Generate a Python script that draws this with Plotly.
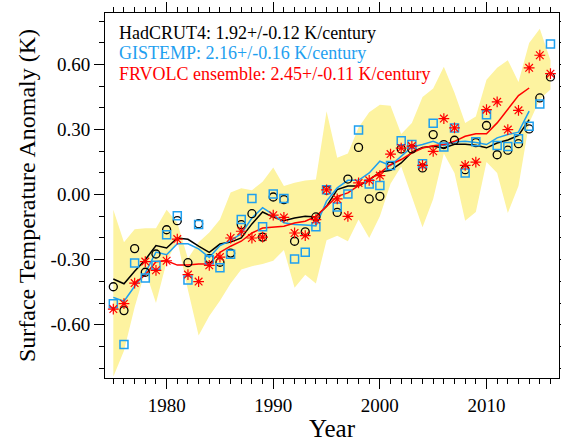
import plotly.graph_objects as go

years = list(range(1975, 2017))
line_years = list(range(1975, 2015))
red_line_years = list(range(1977, 2015))

hadcrut4 = [-0.425, -0.535, -0.249, -0.358, -0.274, -0.162, -0.12, -0.314, -0.134, -0.295,
            -0.312, -0.27, -0.138, -0.088, -0.196, -0.011, -0.023, -0.215, -0.172, -0.103,
            0.02, -0.082, 0.072, 0.218, -0.02, -0.008, 0.132, 0.211, 0.211, 0.123,
            0.277, 0.231, 0.251, 0.115, 0.24, 0.319, 0.184, 0.205, 0.235, 0.303,
            0.446, 0.543]
gistemp = [-0.503, -0.692, -0.315, -0.385, -0.326, -0.185, -0.097, -0.394, -0.138, -0.30,
           -0.337, -0.275, -0.115, -0.018, -0.148, 0.003, -0.018, -0.297, -0.266, -0.148,
           0.023, -0.057, 0.003, 0.298, 0.049, 0.042, 0.134, 0.249, 0.231, 0.143,
           0.329, 0.22, 0.308, 0.1, 0.244, 0.369, 0.227, 0.222, 0.258, 0.315,
           0.418, 0.695]
frvolc = [-0.528, -0.503, -0.408, -0.309, -0.349, -0.305, -0.205, -0.369, -0.401, -0.326,
          -0.288, -0.2, -0.169, -0.2, -0.196, -0.095, -0.105, -0.177, -0.189, -0.115,
          0.022, -0.02, -0.1, 0.054, 0.066, 0.088, 0.187, 0.215, 0.224, 0.135,
          0.2, 0.351, 0.308, 0.135, 0.15, 0.392, 0.428, 0.3, 0.389, 0.585,
          0.643, 0.558]

hadcrut4_smooth = [-0.389, -0.411, -0.354, -0.30, -0.235, -0.246, -0.20, -0.206, -0.238, -0.266,
                   -0.228, -0.219, -0.20, -0.135, -0.08, -0.104, -0.12, -0.108, -0.10, -0.103,
                   -0.054, 0.023, 0.04, 0.04, 0.068, 0.104, 0.112, 0.146, 0.196, 0.217,
                   0.223, 0.215, 0.232, 0.233, 0.228, 0.216, 0.238, 0.252, 0.273, 0.346]
gistemp_smooth = [-0.474, -0.492, -0.423, -0.361, -0.265, -0.277, -0.227, -0.227, -0.25, -0.29,
                  -0.235, -0.212, -0.18, -0.108, -0.06, -0.092, -0.13, -0.138, -0.14, -0.144,
                  -0.03, 0.031, 0.066, 0.066, 0.1, 0.154, 0.134, 0.177, 0.22, 0.231,
                  0.246, 0.226, 0.243, 0.246, 0.241, 0.231, 0.262, 0.277, 0.288, 0.385]
frvolc_smooth = [-0.41, -0.37, -0.31, -0.305, -0.325, -0.325, -0.32, -0.32,
                 -0.266, -0.238, -0.215, -0.177, -0.154, -0.149, -0.146, -0.131, -0.123, -0.1,
                 -0.054, -0.008, 0.008, 0.042, 0.07, 0.1, 0.138, 0.162, 0.192, 0.215,
                 0.226, 0.231, 0.246, 0.269, 0.281, 0.281, 0.331, 0.395, 0.457, 0.492]

ens_upper = [-0.07, -0.22, -0.16, -0.155, -0.155, -0.07, -0.13, -0.295, -0.22, -0.175,
             -0.115, 0.01, 0.03, 0.02, 0.06, 0.125, 0.04, 0.055, 0.065, 0.07,
             0.385, 0.17, 0.19, 0.31, 0.38, 0.415, 0.41, 0.28, 0.33, 0.45,
             0.49, 0.59, 0.47, 0.33, 0.36, 0.53, 0.585, 0.62, 0.52, 0.70,
             0.765, 0.62]
ens_lower = [-0.84, -0.72, -0.52, -0.35, -0.50, -0.31, -0.21, -0.44, -0.65, -0.56,
             -0.49, -0.41, -0.345, -0.33, -0.32, -0.305, -0.255, -0.43, -0.37, -0.41,
             -0.21, -0.19, -0.215, -0.115, -0.2, -0.1, 0.05, 0.13, -0.01, -0.15,
             -0.02, 0.19, 0.1, -0.12, -0.08, 0.15, 0.1, -0.085, 0.04, 0.33,
             0.44, 0.485]

x_tick_values = [1980, 1990, 2000, 2010]
x_tick_labels = ["1980", "1990", "2000", "2010"]
y_tick_values = [-0.6, -0.3, 0.0, 0.3, 0.6]
y_tick_labels = ["-0.60", "-0.30", "0.00", "0.30", "0.60"]

legend_lines = ["HadCRUT4: 1.92+/-0.12 K/century",
                "GISTEMP: 2.16+/-0.16 K/century",
                "FRVOLC ensemble: 2.45+/-0.11 K/century"]

BLACK = "#000000"
BLUE = "#1EA0F0"
RED = "#FF0000"
YELLOW = "#FDF3A0"
FONT = "Liberation Serif, Times New Roman, serif"

fig = go.Figure()
fig.add_trace(go.Scatter(x=years, y=ens_lower, mode="lines", line=dict(width=0, color=YELLOW),
                         showlegend=False, hoverinfo="skip"))
fig.add_trace(go.Scatter(x=years, y=ens_upper, mode="lines", line=dict(width=0, color=YELLOW),
                         fill="tonexty", fillcolor=YELLOW, showlegend=False, hoverinfo="skip"))
fig.add_trace(go.Scatter(x=line_years, y=hadcrut4_smooth, mode="lines",
                         line=dict(color=BLACK, width=1.5), showlegend=False))
fig.add_trace(go.Scatter(x=line_years, y=gistemp_smooth, mode="lines",
                         line=dict(color=BLUE, width=1.5), showlegend=False))
fig.add_trace(go.Scatter(x=red_line_years, y=frvolc_smooth, mode="lines",
                         line=dict(color=RED, width=1.5), showlegend=False))
fig.add_trace(go.Scatter(x=years, y=hadcrut4, mode="markers",
                         marker=dict(symbol="circle-open", size=8, color=BLACK, line=dict(width=1.3)),
                         showlegend=False))
fig.add_trace(go.Scatter(x=years, y=gistemp, mode="markers",
                         marker=dict(symbol="square-open", size=8, color=BLUE, line=dict(width=1.5)),
                         showlegend=False))
fig.add_trace(go.Scatter(x=years, y=frvolc, mode="markers",
                         marker=dict(symbol="asterisk-open", size=9, color=RED, line=dict(width=1.2, color=RED)),
                         showlegend=False))

for i, (txt, col) in enumerate(zip(legend_lines, [BLACK, BLUE, RED])):
    fig.add_annotation(text=txt, xref="paper", yref="paper", x=0.026, y=0.946 - i * 0.056,
                       xanchor="left", yanchor="middle", showarrow=False,
                       font=dict(family=FONT, size=18, color=col))

axis_common = dict(showline=True, linecolor=BLACK, linewidth=1, mirror="ticks",
                   ticks="outside", tickcolor=BLACK, showgrid=False, zeroline=False,
                   tickfont=dict(family=FONT, size=19, color=BLACK), automargin=False)

fig.update_xaxes(range=[1974.22, 2016.8], tickmode="array", tickvals=x_tick_values,
                 ticktext=x_tick_labels, ticklen=10,
                 minor=dict(dtick=1, tick0=1975, ticks="outside", ticklen=5, tickcolor=BLACK),
                 title=dict(text="Year", font=dict(family=FONT, size=25, color=BLACK), standoff=4),
                 **axis_common)
fig.update_yaxes(range=[-0.846, 0.838], tickmode="array", tickvals=y_tick_values,
                 ticktext=y_tick_labels, ticklen=10,
                 minor=dict(dtick=0.1, tick0=0, ticks="outside", ticklen=5, tickcolor=BLACK),
                 title=dict(text="Surface Temperature Anomaly (K)",
                            font=dict(family=FONT, size=24, color=BLACK), standoff=8),
                 **axis_common)

fig.update_layout(width=561, height=448, margin=dict(l=105, r=2, t=13, b=70),
                  paper_bgcolor="white", plot_bgcolor="white", showlegend=False)

fig.write_html("out.html", config={"displayModeBar": False},
               post_script="document.body.style.margin='0';document.body.style.overflow='hidden';")
